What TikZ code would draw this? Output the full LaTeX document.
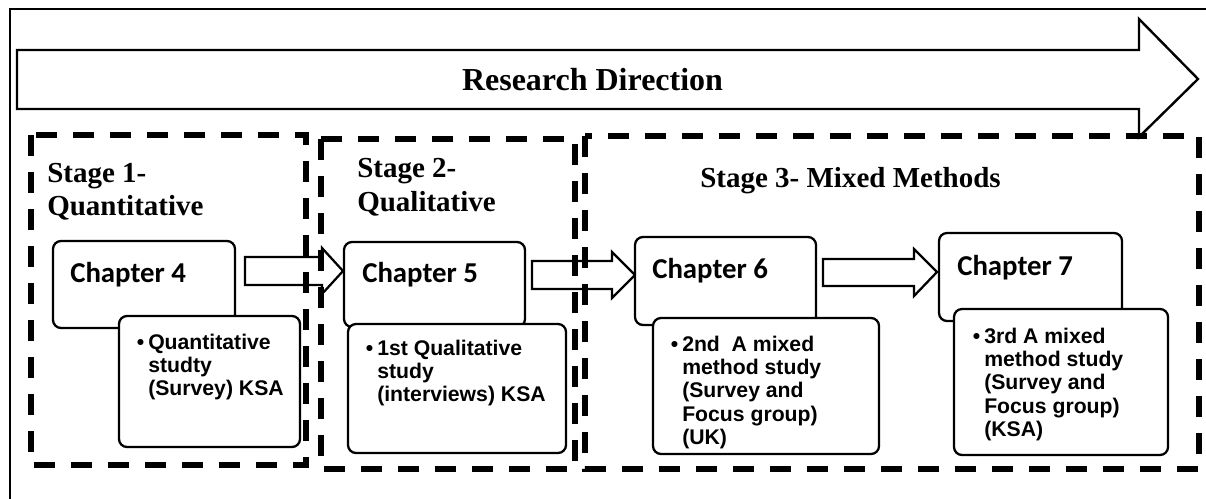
\documentclass[tikz,border=0pt]{standalone}
\usepackage{fontspec}
\setmainfont{Liberation Serif}
\newfontfamily\calibrifont{Carlito}
\newfontfamily\arialfont{Liberation Sans}
\usetikzlibrary{fit}
% stacked lines whose baseline is that of the first line
\newcommand\stacklines[1]{\begin{tabular}[t]{@{}l@{}}#1\end{tabular}}
\newcommand\bulletitem{\llap{\textbullet\hspace{3pt}}}
\begin{document}
\begin{tikzpicture}[x=0.75pt,y=-0.75pt,
  frameline/.style={line width=1.9pt},
  dirarrow/.style={line width=1.8pt, line join=miter, fill=white},
  stagebox/.style={line width=3.9pt, dash pattern=on 15.75pt off 12pt},
  chapbox/.style={draw, line width=1.7pt, rounded corners=6pt, inner sep=0pt, fill=white},
  flowarrow/.style={draw, line width=1.7pt, line join=miter, fill=white},
  titletext/.style={font=\bfseries\fontsize{24}{28}\selectfont, inner sep=0pt, anchor=base},
  stagetext/.style={font=\bfseries\fontsize{21.75}{24.75}\selectfont, inner sep=0pt, anchor=base west},
  chaptext/.style={font=\calibrifont\bfseries\fontsize{21.6}{25}\selectfont, inner sep=0pt, anchor=base west},
  studytext/.style={font=\arialfont\bfseries\fontsize{15.9}{17.5}\selectfont, inner sep=0pt, anchor=base west},
]
\useasboundingbox (0,0) rectangle (1206,499);
\clip (0,0) rectangle (1206,499);

% outer frame
\draw[frameline] (10,9) rectangle (1230,530);

% research direction arrow
\draw[dirarrow] (17,50) -- (1139,50) -- (1139,19) -- (1198,79) -- (1139,137)
  -- (1139,109) -- (17,109) -- cycle;
\node[titletext] (direction) at (592.5,91) {Research Direction};

% block arrows between chapters
\draw[flowarrow] (245,257) -- (322,257) -- (322,248) -- (343,271) -- (322,294) -- (322,285) -- (245,285) -- cycle;
\draw[flowarrow] (532,261) -- (612,261) -- (612,252) -- (635,275) -- (612,298) -- (612,289) -- (532,289) -- cycle;
\draw[flowarrow] (823,259) -- (914,259) -- (914,249) -- (937,272) -- (914,296) -- (914,286) -- (823,286) -- cycle;

% stage boxes
\draw[stagebox] (31,135) rectangle (306,465);
\draw[stagebox] (321,139) rectangle (575,469);
\draw[stagebox] (585,136) rectangle (1199,469);

\node[stagetext] (stage1) at (47,182) {\stacklines{Stage 1-\\Quantitative}};
\node[stagetext] (stage2) at (357,178) {\stacklines{Stage 2-\\Qualitative}};
\node[stagetext] (stage3) at (700,188) {Stage 3- Mixed Methods};

% chapter boxes
\node[chapbox, fit={(53,241) (235,328)}] (ch4) {};
\node[chapbox, fit={(344,242) (525,327)}] (ch5) {};
\node[chapbox, fit={(635,237) (816,325)}] (ch6) {};
\node[chapbox, fit={(939,233) (1122,321)}] (ch7) {};

\node[chaptext] (ch4t) at (70,282) {Chapter 4};
\node[chaptext] (ch5t) at (362,282) {Chapter 5};
\node[chaptext] (ch6t) at (652,278) {Chapter 6};
\node[chaptext] (ch7t) at (957,275) {Chapter 7};

% study boxes
\node[chapbox, fit={(119,316) (300,447)}] (st4) {};
\node[chapbox, fit={(348,324) (566,453)}] (st5) {};
\node[chapbox, fit={(653,318) (879,454)}] (st6) {};
\node[chapbox, fit={(954,309) (1168,455)}] (st7) {};

\node[studytext] (st4t) at (148,349) {\stacklines{\bulletitem Quantitative\\studty\\(Survey) KSA}};
\node[studytext] (st5t) at (377,355) {\stacklines{\bulletitem 1st Qualitative\\study\\(interviews) KSA}};
\node[studytext] (st6t) at (682,351) {\stacklines{\bulletitem 2nd\ \ A mixed\\method study\\(Survey and\\Focus group)\\(UK)}};
\node[studytext] (st7t) at (984,343) {\stacklines{\bulletitem 3rd A mixed\\method study\\(Survey and\\Focus group)\\(KSA)}};
\end{tikzpicture}
\end{document}
